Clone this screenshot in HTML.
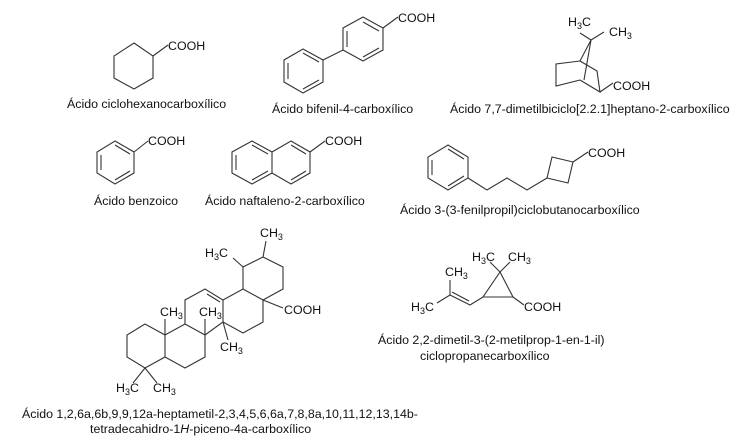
<!DOCTYPE html>
<html><head><meta charset="utf-8"><style>
html,body{margin:0;padding:0;background:#fff}
svg{display:block}
text{font-family:"Liberation Sans",Arial,sans-serif;font-size:12.4px;fill:#111}
.s{font-size:9px}
</style></head><body>
<svg width="750" height="443" viewBox="0 0 750 443" xmlns="http://www.w3.org/2000/svg">
<g fill="none" stroke="#333" stroke-width="1.1">
<polygon points="134,43 153,56 153,78 134,89 114,78 114,56"/>
<line x1="153" y1="56" x2="168" y2="45"/>
<polygon points="363,17 383,28 383,50 363,61 343,50 343,28"/>
<polyline points="363,22 379,31"/><polyline points="379,48 363,57"/><polyline points="347,47 347,31"/>
<line x1="383" y1="28" x2="398" y2="17"/>
<line x1="343" y1="50" x2="323" y2="60"/>
<polygon points="303,49 323,60 323,82 303,93 284,82 284,60"/>
<line x1="288" y1="63" x2="288" y2="79"/><line x1="303" y1="89" x2="319" y2="80"/><line x1="303" y1="53" x2="319" y2="62"/>
<line x1="591" y1="40" x2="580" y2="61"/>
<line x1="591" y1="40" x2="584" y2="80"/>
<line x1="591" y1="40" x2="580" y2="33"/>
<line x1="591" y1="40" x2="604" y2="32"/>
<polyline points="580,61 556,64 556,86 580,80"/>
<polyline points="580,61 597,71 600,92 580,80"/>
<line x1="600" y1="92" x2="613" y2="83"/>
<polygon points="115,141 134,152 134,173 115,184 97,173 97,152"/>
<line x1="101" y1="155" x2="101" y2="170"/><line x1="115" y1="180" x2="130" y2="171"/><line x1="130" y1="154" x2="115" y2="145"/>
<line x1="134" y1="152" x2="148" y2="141"/>
<polygon points="232,152 252,141 272,152 272,173 252,184 232,173"/>
<polyline points="272,152 291,141 310,152 310,173 291,184 272,173"/>
<line x1="236" y1="155" x2="236" y2="170"/><line x1="252" y1="145" x2="268" y2="154"/><line x1="252" y1="180" x2="268" y2="171"/>
<line x1="291" y1="145" x2="306" y2="154"/><line x1="291" y1="180" x2="306" y2="171"/>
<line x1="310" y1="152" x2="325" y2="141"/>
<polygon points="448,145 468,157 468,178 448,190 428,178 428,157"/>
<line x1="432" y1="160" x2="432" y2="175"/><line x1="448" y1="186" x2="464" y2="176"/><line x1="448" y1="149" x2="464" y2="159"/>
<polyline points="468,178 487,190 507,178 527,190 547,178"/>
<polygon points="547,178 552,157 573,162 568,183"/>
<line x1="573" y1="162" x2="588" y2="152"/>
<polygon points="127,335 145,324 165,335 165,357 145,368 127,357"/>
<polyline points="165,335 185,324 205,335 205,357 185,368 165,357"/>
<polyline points="185,324 185,300 205,289 223,300 223,322 205,335"/>
<line x1="207" y1="294" x2="220" y2="302"/>
<polyline points="223,300 243,289 263,300 263,322 243,333 223,322"/>
<polyline points="243,289 243,267 263,257 283,267 283,289 263,300"/>
<line x1="145" y1="368" x2="133" y2="383"/><line x1="145" y1="368" x2="157" y2="383"/>
<line x1="165" y1="335" x2="165" y2="319"/>
<line x1="205" y1="335" x2="205" y2="319"/>
<line x1="223" y1="322" x2="228" y2="340"/>
<line x1="263" y1="300" x2="283" y2="308"/>
<line x1="263" y1="257" x2="266" y2="241"/>
<line x1="243" y1="267" x2="233" y2="258"/>
<polygon points="500,272 483,297 513,297"/>
<line x1="500" y1="272" x2="490" y2="262"/><line x1="500" y1="272" x2="510" y2="262"/>
<line x1="513" y1="297" x2="524" y2="305"/>
<polyline points="483,297 470,305 450,295"/>
<line x1="469" y1="301" x2="452" y2="292"/>
<line x1="450" y1="295" x2="450" y2="280"/>
<line x1="450" y1="295" x2="437" y2="303"/>
</g>
<text x="168" y="50">COOH</text>
<text x="67" y="108">Ácido ciclohexanocarboxílico</text>
<text x="398" y="22">COOH</text>
<text x="272" y="113">Ácido bifenil-4-carboxílico</text>
<text x="568" y="26">H<tspan class="s" dy="3">3</tspan><tspan dy="-3">C</tspan></text>
<text x="609" y="36">CH<tspan class="s" dy="3">3</tspan></text>
<text x="613" y="90">COOH</text>
<text x="450" y="113">Ácido 7,7-dimetilbiciclo[2.2.1]heptano-2-carboxílico</text>
<text x="148" y="145">COOH</text>
<text x="94" y="205">Ácido benzoico</text>
<text x="325" y="145">COOH</text>
<text x="205" y="205">Ácido naftaleno-2-carboxílico</text>
<text x="588" y="157">COOH</text>
<text x="400" y="214">Ácido 3-(3-fenilpropil)ciclobutanocarboxílico</text>
<text x="260" y="237">CH<tspan class="s" dy="3">3</tspan></text>
<text x="205" y="257">H<tspan class="s" dy="3">3</tspan><tspan dy="-3">C</tspan></text>
<text x="160" y="316">CH<tspan class="s" dy="3">3</tspan></text>
<text x="199" y="316">CH<tspan class="s" dy="3">3</tspan></text>
<text x="284" y="314">COOH</text>
<text x="220" y="351">CH<tspan class="s" dy="3">3</tspan></text>
<text x="116" y="392">H<tspan class="s" dy="3">3</tspan><tspan dy="-3">C</tspan></text>
<text x="153" y="392">CH<tspan class="s" dy="3">3</tspan></text>
<text x="22" y="418">Ácido 1,2,6a,6b,9,9,12a-heptametil-2,3,4,5,6,6a,7,8,8a,10,11,12,13,14b-</text>
<text x="90" y="433">tetradecahidro-1<tspan font-style="italic">H</tspan>-piceno-4a-carboxílico</text>
<text x="472" y="261">H<tspan class="s" dy="3">3</tspan><tspan dy="-3">C</tspan></text>
<text x="508" y="261">CH<tspan class="s" dy="3">3</tspan></text>
<text x="445" y="276">CH<tspan class="s" dy="3">3</tspan></text>
<text x="411" y="311">H<tspan class="s" dy="3">3</tspan><tspan dy="-3">C</tspan></text>
<text x="524" y="311">COOH</text>
<text x="378" y="344">Ácido 2,2-dimetil-3-(2-metilprop-1-en-1-il)</text>
<text x="420" y="360">ciclopropanecarboxílico</text>
</svg>
</body></html>
